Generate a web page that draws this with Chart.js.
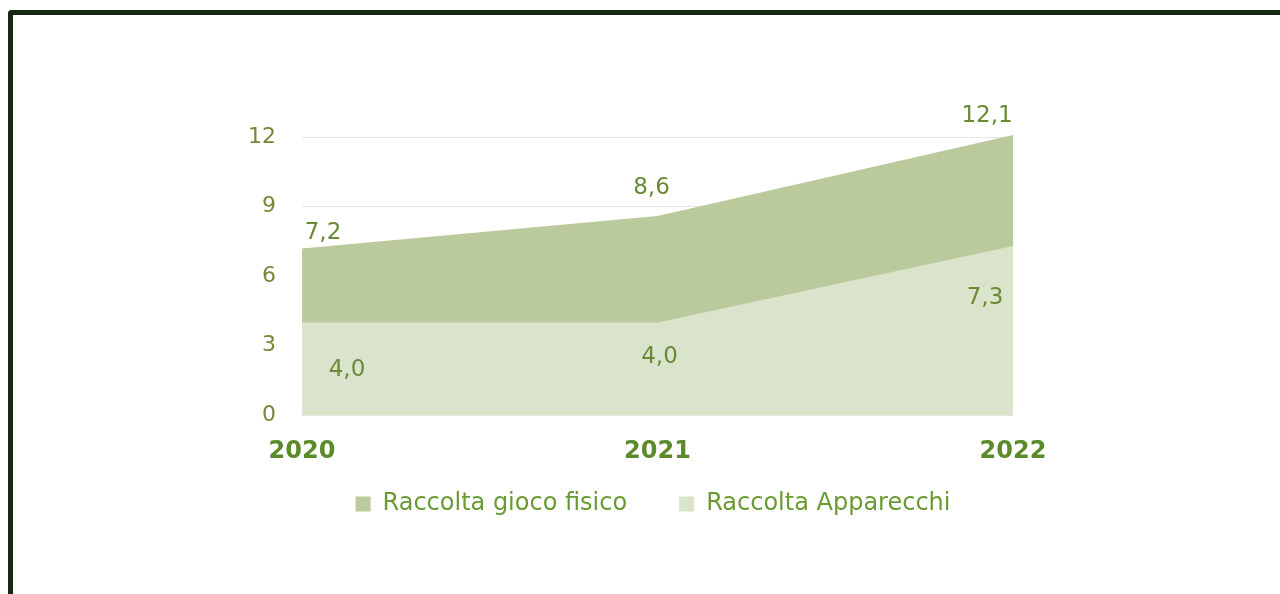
<!DOCTYPE html>
<html>
<head>
<meta charset="utf-8">
<script src="https://cdn.jsdelivr.net/npm/chart.js@4.4.1/dist/chart.umd.min.js"></script>
<style>
  html, body { margin: 0; padding: 0; background: #ffffff; overflow: hidden; }
  #wrap { position: relative; width: 1280px; height: 594px; }
  #frame { position: absolute; left: 8px; top: 10px; width: 1300px; height: 640px;
           border-left: 5px solid #142814; border-top: 5px solid #142814;
           border-top-left-radius: 4px; box-sizing: border-box; pointer-events: none; }
  canvas { position: absolute; left: 0; top: 0; }
</style>
</head>
<body>
<div id="wrap">
  <canvas id="c" width="1280" height="594"></canvas>
  <div id="frame"></div>
</div>
<script>
// ---- data ----
const categories = ['2020', '2021', '2022'];
const raccoltaGiocoFisico = [7.2, 8.6, 12.1];
const raccoltaApparecchi = [4.0, 4.0, 7.3];
const yTicks = [0, 3, 6, 9, 12];

// ---- styles ----
const FONT = "'DejaVu Sans', Verdana, sans-serif";
const colGioco = 'rgb(187,202,156)';
const colApp = 'rgb(218,227,203)';
const labelColor = '#6a8a35';
// label offsets (pixels, from data point to label centre)
const offGioco = [[21, -15], [-6, -28], [-26, -19]];
const offApp = [[45, 48], [2, 35], [-28, 52]];
// legend box placement (pixels)
const legendBox = { left: 291, right: 1015, top: 440 };

const labelPlugin = {
  id: 'valueLabels',
  afterDatasetsDraw(chart) {
    const ctx = chart.ctx;
    ctx.save();
    ctx.font = '23px ' + FONT;
    ctx.fillStyle = labelColor;
    ctx.textAlign = 'center';
    ctx.textBaseline = 'middle';
    chart.data.datasets.forEach((ds, di) => {
      const meta = chart.getDatasetMeta(di);
      const offs = ds.labelOffsets;
      meta.data.forEach((pt, i) => {
        const v = ds.data[i];
        const txt = v.toFixed(1).replace('.', ',');
        ctx.fillText(txt, pt.x + offs[i][0], pt.y + offs[i][1]);
      });
    });
    ctx.restore();
  }
};

const legendPlace = {
  id: 'legendPlace',
  afterLayout(chart) {
    const lg = chart.legend;
    if (!lg) return;
    const h = lg.height;
    lg.left = legendBox.left;
    lg.right = legendBox.right;
    lg.width = legendBox.right - legendBox.left;
    lg.top = legendBox.top;
    lg.bottom = legendBox.top + h;
  }
};

new Chart(document.getElementById('c'), {
  type: 'line',
  data: {
    labels: categories,
    datasets: [
      {
        label: 'Raccolta Apparecchi',
        data: raccoltaApparecchi,
        backgroundColor: colApp,
        borderColor: colApp,
        borderWidth: 0,
        pointRadius: 0,
        fill: 'origin',
        tension: 0,
        labelOffsets: offApp
      },
      {
        label: 'Raccolta gioco fisico',
        data: raccoltaGiocoFisico,
        backgroundColor: colGioco,
        borderColor: colGioco,
        borderWidth: 0,
        pointRadius: 0,
        fill: 'origin',
        tension: 0,
        labelOffsets: offGioco
      }
    ]
  },
  options: {
    responsive: false,
    animation: false,
    events: [],
    layout: { padding: { left: 200, right: 267, top: 135, bottom: 30 } },
    plugins: {
      tooltip: { enabled: false },
      legend: {
        position: 'bottom',
        reverse: true,
        labels: {
          font: { family: FONT, size: 24 },
          color: '#6a9a32',
          boxWidth: 15,
          boxHeight: 15,
          padding: 52
        }
      }
    },
    scales: {
      x: {
        offset: false,
        grid: { display: false },
        border: { display: false },
        ticks: {
          font: { family: FONT, size: 24, weight: 'bold' },
          color: '#5b8a2a',
          padding: 14,
          maxRotation: 0,
          autoSkip: false
        },
        afterFit(scale) { scale.height = 63; }
      },
      y: {
        min: 0,
        max: 12.1,
        grid: { color: '#e6e6e6', lineWidth: 1, drawTicks: false },
        border: { display: false },
        ticks: {
          font: { family: FONT, size: 22 },
          color: '#74883a',
          padding: 26
        },
        afterBuildTicks(scale) {
          scale.ticks = yTicks.map(v => ({ value: v }));
        },
        afterFit(scale) { scale.width = 102; }
      }
    }
  },
  plugins: [labelPlugin, legendPlace]
});
</script>
</body>
</html>
